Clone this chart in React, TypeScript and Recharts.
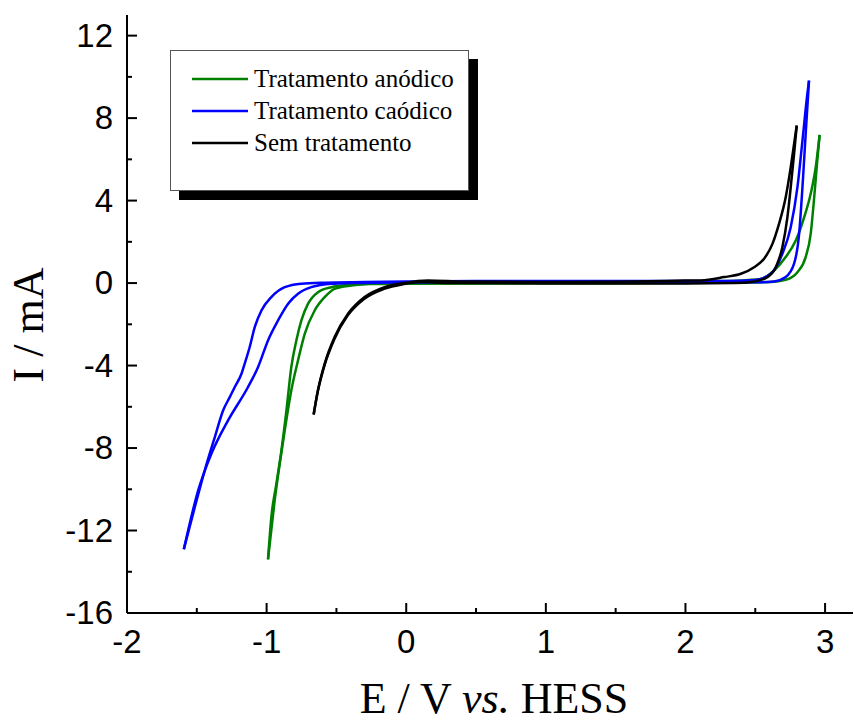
import React from 'react';
import { LineChart, Line, XAxis, YAxis } from 'recharts';

// ---- Data (E / V vs HESS, I / mA); each sweep listed with E ascending ----
// Tratamento anódico
const anodicUpE = [
  -0.99, -0.966, -0.93, -0.894, -0.858, -0.823, -0.787, -0.751, -0.703, -0.632, -0.537, -0.393, -0.2, 0, 0.5, 1, 1.5, 2, 2.3, 2.45,
  2.54, 2.635, 2.718, 2.79, 2.85, 2.897, 2.933, 2.961,
];
const anodicUpI = [
  -13.4, -11.34, -9.73, -8.11, -6.17, -4.07, -2.78, -1.81, -1.0, -0.44, -0.2, -0.08, -0.02, 0.03, 0.05, 0.06, 0.07, 0.08, 0.1, 0.15,
  0.2, 0.61, 1.26, 2.06, 3.19, 4.33, 5.62, 7.19,
];
const anodicDownE = [
  -0.99, -0.97, -0.942, -0.906, -0.87, -0.823, -0.775, -0.727, -0.656, -0.584, -0.513, -0.393, -0.274, 0, 1, 2, 2.3,
  2.611, 2.718, 2.802, 2.861, 2.897, 2.92, 2.94, 2.961,
];
const anodicDownI = [
  -13.4, -12.2, -10.53, -8.76, -7.14, -5.2, -3.75, -2.46, -1.33, -0.68, -0.28, -0.12, -0.05, -0.03, -0.01, 0.0, 0.02,
  0.05, 0.16, 0.53, 1.26, 2.39, 4.0, 5.62, 7.19,
];

// Tratamento caódico
const cathodicUpE = [
  -1.593, -1.514, -1.443, -1.371, -1.311, -1.264, -1.228, -1.18, -1.157, -1.121, -1.085, -1.037, -0.966, -0.87, -0.751, -0.584, -0.3, 0, 0.5, 1, 1.5, 2, 2.3, 2.5,
  2.611, 2.694, 2.754, 2.802, 2.838, 2.873, 2.885,
];
const cathodicUpI = [
  -12.91, -10.86, -9.08, -7.47, -6.17, -5.53, -5.04, -4.4, -3.91, -3.1, -2.14, -1.33, -0.68, -0.2, -0.03, 0.02, 0.05, 0.08, 0.1, 0.1, 0.1, 0.1, 0.1, 0.15,
  0.45, 1.42, 2.71, 4.65, 6.91, 9.17, 9.82,
];
const cathodicDownE = [
  -1.593, -1.49, -1.395, -1.276, -1.133, -1.061, -0.99, -0.918, -0.846, -0.775, -0.68, -0.537, -0.393, 0, 1, 2, 2.54,
  2.635, 2.718, 2.778, 2.814, 2.838, 2.861, 2.885,
];
const cathodicDownI = [
  -12.91, -10.05, -8.27, -6.66, -5.04, -4.07, -2.78, -1.81, -1.0, -0.52, -0.2, -0.03, 0.0, 0.03, 0.04, 0.04, 0.04,
  0.08, 0.29, 0.94, 2.39, 4.65, 7.23, 9.82,
];

// Sem tratamento
const untreatedUpE = [
  -0.663, -0.632, -0.584, -0.513, -0.417, -0.298, -0.155, -0.012, 0.155, 0.4, 1, 1.5, 2, 2.11, 2.277, 2.397,
  2.492, 2.563, 2.623, 2.67, 2.718, 2.754, 2.778, 2.797,
];
const untreatedUpI = [
  -6.37, -5.2, -3.91, -2.62, -1.49, -0.68, -0.2, 0.01, 0.13, 0.08, 0.05, 0.07, 0.12, 0.13, 0.29, 0.45,
  0.77, 1.18, 1.9, 2.87, 4.16, 5.62, 6.75, 7.64,
];
const untreatedDownE = [
  -0.663, -0.635, -0.586, -0.515, -0.42, -0.3, -0.16, -0.02, 0.1, 0.3, 1, 2, 2.349,
  2.492, 2.587, 2.647, 2.694, 2.73, 2.754, 2.778, 2.797,
];
const untreatedDownI = [
  -6.37, -5.3, -4.0, -2.72, -1.58, -0.76, -0.28, -0.05, 0.05, 0.0, -0.02, -0.02, 0.0,
  0.08, 0.29, 0.77, 1.74, 3.19, 4.65, 6.26, 7.64,
];

const seriesNames = ['Tratamento anódico', 'Tratamento caódico', 'Sem tratamento'];
const seriesColors = ['#008000', '#0000FF', '#000000'];

const xTicks = [-2, -1.5, -1, -0.5, 0, 0.5, 1, 1.5, 2, 2.5, 3];
const yTicks = [-16, -14, -12, -10, -8, -6, -4, -2, 0, 2, 4, 6, 8, 10, 12];

const toPoints = (es: number[], is: number[]) => es.map((e, k) => ({ e, i: is[k] }));
const sweeps = [
  { series: 0, data: toPoints(anodicUpE, anodicUpI) },
  { series: 0, data: toPoints(anodicDownE, anodicDownI) },
  { series: 1, data: toPoints(cathodicUpE, cathodicUpI) },
  { series: 1, data: toPoints(cathodicDownE, cathodicDownI) },
  { series: 2, data: toPoints(untreatedUpE, untreatedUpI) },
  { series: 2, data: toPoints(untreatedDownE, untreatedDownI) },
];

const SANS = '"Liberation Sans", Arial, sans-serif';
const SERIF = '"Liberation Serif", "Times New Roman", serif';

const XTickBottom = (props: any) => {
  const { x, y, payload } = props;
  const v = payload.value;
  const major = Number.isInteger(v);
  return (
    <g>
      <line x1={x} y1={y} x2={x} y2={y - (major ? 10 : 5)} stroke="#000" strokeWidth={2} />
      {major && (
        <text x={x} y={y + 40} textAnchor="middle" fontFamily={SANS} fontSize={33} fill="#000">
          {String(v)}
        </text>
      )}
    </g>
  );
};

const XTickTop = (props: any) => {
  const { x, y, payload } = props;
  const major = Number.isInteger(payload.value);
  return <line x1={x} y1={y} x2={x} y2={y + (major ? 10 : 5)} stroke="#000" strokeWidth={2} />;
};

const YTickLeft = (props: any) => {
  const { x, y, payload } = props;
  const v = payload.value;
  const major = v % 4 === 0;
  return (
    <g>
      <line x1={x} y1={y} x2={x + (major ? 10 : 5)} y2={y} stroke="#000" strokeWidth={2} />
      {major && (
        <text x={x - 14} y={y + 11} textAnchor="end" fontFamily={SANS} fontSize={33} fill="#000">
          {String(v)}
        </text>
      )}
    </g>
  );
};

const XTitle = (props: any) => {
  const vb = props.viewBox || { x: 127, y: 613, width: 726, height: 109 };
  return (
    <text x={vb.x + vb.width / 2 + 4} y={vb.y + 100} textAnchor="middle" fontFamily={SERIF} fontSize={44} fill="#000">
      <tspan>{'E / V '}</tspan>
      <tspan fontStyle="italic">{'vs.'}</tspan>
      <tspan>{' HESS'}</tspan>
    </text>
  );
};

const YTitle = (props: any) => {
  const vb = props.viewBox || { x: 0, y: 15, width: 127, height: 598 };
  const cx = vb.x + 43;
  const cy = vb.y + vb.height / 2 + 11;
  return (
    <text x={cx} y={cy} transform={`rotate(-90, ${cx}, ${cy})`} textAnchor="middle" fontFamily={SERIF} fontSize={44} fill="#000">
      I / mA
    </text>
  );
};

const LegendBox = () => (
  <div
    style={{
      position: 'absolute',
      left: 170,
      top: 50,
      width: 299,
      height: 141,
      boxSizing: 'border-box',
      border: '1px solid #555',
      background: '#fff',
      boxShadow: '9px 9px 0 0 #000',
    }}
  >
    <svg width={297} height={139} style={{ display: 'block' }}>
      {seriesNames.map((name, k) => (
        <g key={name}>
          <line x1={21} x2={77} y1={28 + k * 32} y2={28 + k * 32} stroke={seriesColors[k]} strokeWidth={2.5} />
          <text x={83} y={36 + k * 32} fontFamily={SERIF} fontSize={25} fill="#000">
            {name}
          </text>
        </g>
      ))}
    </svg>
  </div>
);

export default function App() {
  return (
    <div style={{ position: 'absolute', left: 0, top: 0, width: 854, height: 722, background: '#fff' }}>
      <LineChart width={854} height={722} margin={{ top: 15, right: 1, bottom: 0, left: 0 }}>
        <XAxis
          xAxisId="bottom"
          type="number"
          dataKey="e"
          domain={[-2, 3.2]}
          allowDataOverflow
          ticks={xTicks}
          interval={0}
          height={109}
          tickSize={0}
          tickMargin={0}
          tickLine={false}
          tick={<XTickBottom />}
          axisLine={{ stroke: '#000', strokeWidth: 2 }}
          label={<XTitle />}
        />
        <XAxis
          xAxisId="top"
          orientation="top"
          type="number"
          dataKey="e"
          domain={[-2, 3.2]}
          allowDataOverflow
          ticks={xTicks}
          interval={0}
          height={0}
          tickSize={0}
          tickMargin={0}
          tickLine={false}
          tick={<XTickTop />}
          axisLine={{ stroke: '#000', strokeWidth: 2 }}
        />
        <YAxis
          type="number"
          dataKey="i"
          domain={[-16, 13]}
          allowDataOverflow
          ticks={yTicks}
          interval={0}
          width={127}
          tickSize={0}
          tickMargin={0}
          tickLine={false}
          tick={<YTickLeft />}
          axisLine={{ stroke: '#000', strokeWidth: 2 }}
          label={<YTitle />}
        />
        {sweeps.map((s, k) => (
          <Line
            key={k}
            xAxisId="bottom"
            data={s.data}
            dataKey="i"
            type="monotoneX"
            stroke={seriesColors[s.series]}
            strokeWidth={2.5}
            dot={false}
            activeDot={false}
            isAnimationActive={false}
          />
        ))}
      </LineChart>
      <LegendBox />
    </div>
  );
}
